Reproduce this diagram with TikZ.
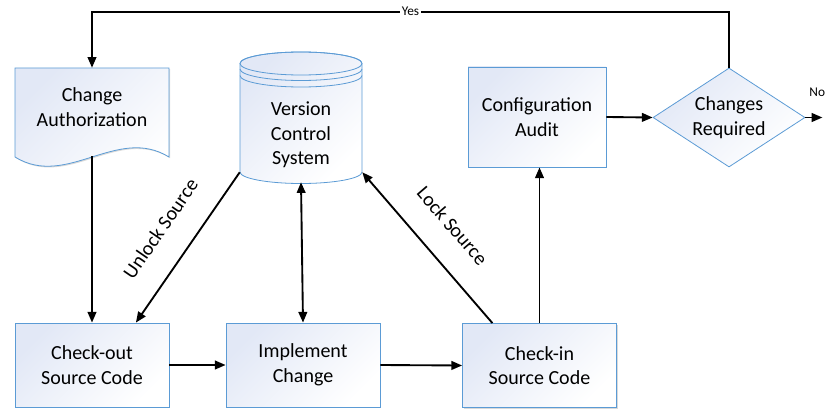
\documentclass[tikz,border=0pt]{standalone}
\usepackage{fontspec}
\setmainfont{Carlito}
\usetikzlibrary{arrows.meta,shapes.geometric,shadows}

\definecolor{boxline}{RGB}{91,155,213}
\definecolor{boxtop}{RGB}{226,232,246}

\tikzset{
  shaded/.style={draw=boxline, line width=0.6pt, top color=boxtop, bottom color=white, shading angle=45},
  softshadow/.style={drop shadow={shadow xshift=0.9pt, shadow yshift=-0.9pt, fill=black, opacity=0.15}},
  label15/.style={inner sep=0pt, align=center, font=\fontsize{15}{18.5}\selectfont},
  block/.style={shaded, softshadow, rectangle, label15, minimum width=115.5pt, minimum height=63pt},
  decision/.style={shaded, diamond, aspect=1.53, label15, minimum width=114pt, minimum height=74.25pt},
  flow/.style={line width=1.4pt, -{Triangle[length=8pt,width=6.5pt]}},
  small/.style={font=\fontsize{10}{12}\selectfont, inner sep=1pt},
}

\begin{document}
\begin{tikzpicture}[x=0.75pt, y=0.75pt]
    \useasboundingbox (0,0) rectangle (835,-410);

    % Change authorization (document shape)
    \path[shaded, softshadow] (15,-68) -- (169,-68) -- (169,-157)
        .. controls (117,-125) and (67,-189) .. (15,-157) -- cycle;
    \node[label15, minimum width=115.5pt, minimum height=58.5pt] (auth) at (92,-107) {Change\\Authorization};
    \coordinate (authbot) at ([yshift=-7.5pt]auth.south);

    % Version control system (cylinder)
    \path[shaded] (240,-63.5) -- (240,-172)
        arc[start angle=180, end angle=360, x radius=61, y radius=11.5]
        -- (362,-63.5)
        arc[start angle=0, end angle=180, x radius=61, y radius=11.5] -- cycle;
    \draw[boxline, line width=0.6pt] (301,-63.5) ellipse[x radius=61, y radius=11.5];
    \draw[boxline, line width=0.6pt] (240,-69) arc[start angle=180, end angle=360, x radius=61, y radius=11.5];
    \draw[boxline, line width=0.6pt] (240,-75.5) arc[start angle=180, end angle=360, x radius=61, y radius=11.5];
    \node[label15, minimum width=91.5pt, minimum height=55.5pt] (vcs) at (301,-135) {Version\\Control\\System};
    \coordinate (vcsbot) at ([yshift=-7.5pt]vcs.south);

    % Process boxes
    \node[block] (checkout) at (92,-365) {Check-out\\Source Code};
    \node[block] (implement) at (303,-365) {Implement\\Change};
    \node[block] (checkin) at (539.5,-365.5) {Check-in\\Source Code};
    \node[block, minimum width=103.5pt, minimum height=75pt] (audit) at (537,-117) {Configuration\\Audit};
    \node[decision] (changes) at (729,-117.5) {Changes\\Required};

    % Connectors
    \draw[flow] (authbot) -- (checkout.north);
    \draw[flow] (checkout.east) -- (implement.west);
    \draw[flow] (implement.east) -- (checkin.west);
    \draw[flow] (checkin.north) -- (checkin.north |- audit.south);
    \draw[flow] (audit.east) -- (changes.west);
    \draw[flow, {Triangle[length=8pt,width=6.5pt]}-{Triangle[length=8pt,width=6.5pt]}] (vcsbot) -- (implement.north);
    \draw[flow] (vcs.south west) -- (checkout.44)
        node[midway, sloped, above=19pt, label15] {Unlock Source};
    \draw[flow] (checkin.138) -- (vcs.south east)
        node[midway, sloped, above=19pt, label15] {Lock Source};
    \draw[flow] (changes.north) -- ++(0,56) -| (auth.north)
        node[pos=0.25, fill=white, small] {Yes};
    \draw[flow] (changes.east) -- ++(17,0)
        node[pos=0.7, above=14pt, small] {No};
\end{tikzpicture}
\end{document}
